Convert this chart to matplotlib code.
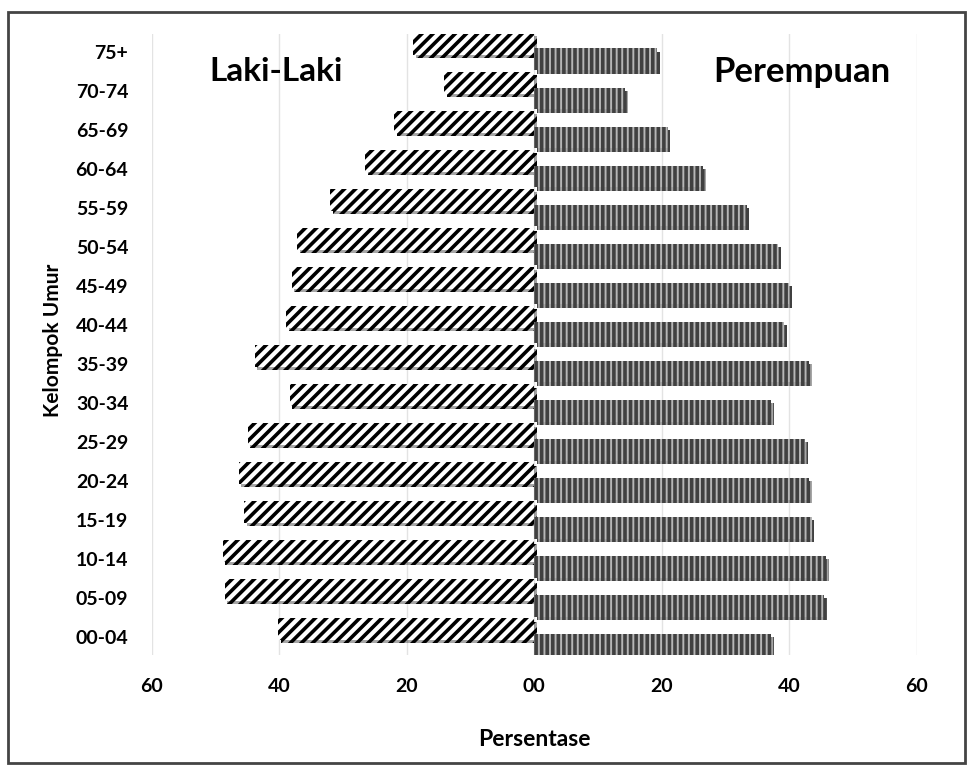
import matplotlib
matplotlib.use("Agg")
import matplotlib.pyplot as plt
import matplotlib.patheffects as pe
import numpy as np

plt.rcParams['font.family'] = ['Lato', 'DejaVu Sans']
plt.rcParams['hatch.linewidth'] = 2.6

# data (persen)
kelompok = ['00-04', '05-09', '10-14', '15-19', '20-24', '25-29', '30-34', '35-39',
            '40-44', '45-49', '50-54', '55-59', '60-64', '65-69', '70-74', '75+']
laki = [40.2, 48.6, 48.9, 45.5, 46.4, 45.0, 38.4, 43.9,
        38.9, 38.1, 37.2, 32.0, 26.5, 22.0, 14.1, 19.0]
perempuan = [37.2, 45.5, 45.8, 43.5, 43.1, 42.5, 37.2, 43.1,
             39.2, 40.0, 38.3, 33.3, 26.5, 20.9, 14.3, 19.3]
xticks = [-60, -40, -20, 0, 20, 40, 60]
xticklabels = ['60', '40', '20', '00', '20', '40', '60']

fig = plt.figure(figsize=(9.68, 7.65), dpi=100)
ax = fig.add_axes([0.157, 0.144, 0.79, 0.812])

y = np.arange(len(kelompok))
shadow = [pe.SimplePatchShadow(offset=(2, -2.5), shadow_rgbFace='black', alpha=0.35), pe.Normal()]

ax.barh(y + 0.2, [-v for v in laki], height=0.56, color='white', edgecolor='black',
        hatch='///', linewidth=0, path_effects=shadow, zorder=3)
ax.barh(y - 0.2, perempuan, height=0.56, color='#b6b6b6', edgecolor='#404040',
        hatch='|||', linewidth=0, path_effects=shadow, zorder=3)

ax.set_xlim(-60, 60)
ax.set_ylim(-0.46, 15.46)
ax.set_xticks(xticks)
ax.set_xticklabels(xticklabels, fontsize=14, fontweight='bold')
ax.set_yticks(y)
ax.set_yticklabels(kelompok, fontsize=14, fontweight='bold')
ax.tick_params(length=0)
ax.tick_params(axis='x', pad=17)
ax.tick_params(axis='y', pad=17)
ax.grid(axis='x', color='#e3e3e3', linewidth=1, zorder=0)
for s in ax.spines.values():
    s.set_visible(False)

ax.set_xlabel('Persentase', fontsize=16.5, fontweight='bold', labelpad=24)
fig.text(0.055, 0.555, 'Kelompok Umur', rotation=90, fontsize=15, fontweight='bold',
         ha='center', va='center')

ax.text(-40.5, 14.49, 'Laki-Laki', fontsize=24, fontweight='bold', ha='center', va='center')
ax.text(42, 14.49, 'Perempuan', fontsize=25, fontweight='bold', ha='center', va='center')

# bingkai luar
fig.patches.append(plt.Rectangle((0.008, 0.003), 0.989, 0.981, transform=fig.transFigure,
                                 fill=False, edgecolor='#444444', linewidth=2))

plt.savefig("out.png", dpi=100)
